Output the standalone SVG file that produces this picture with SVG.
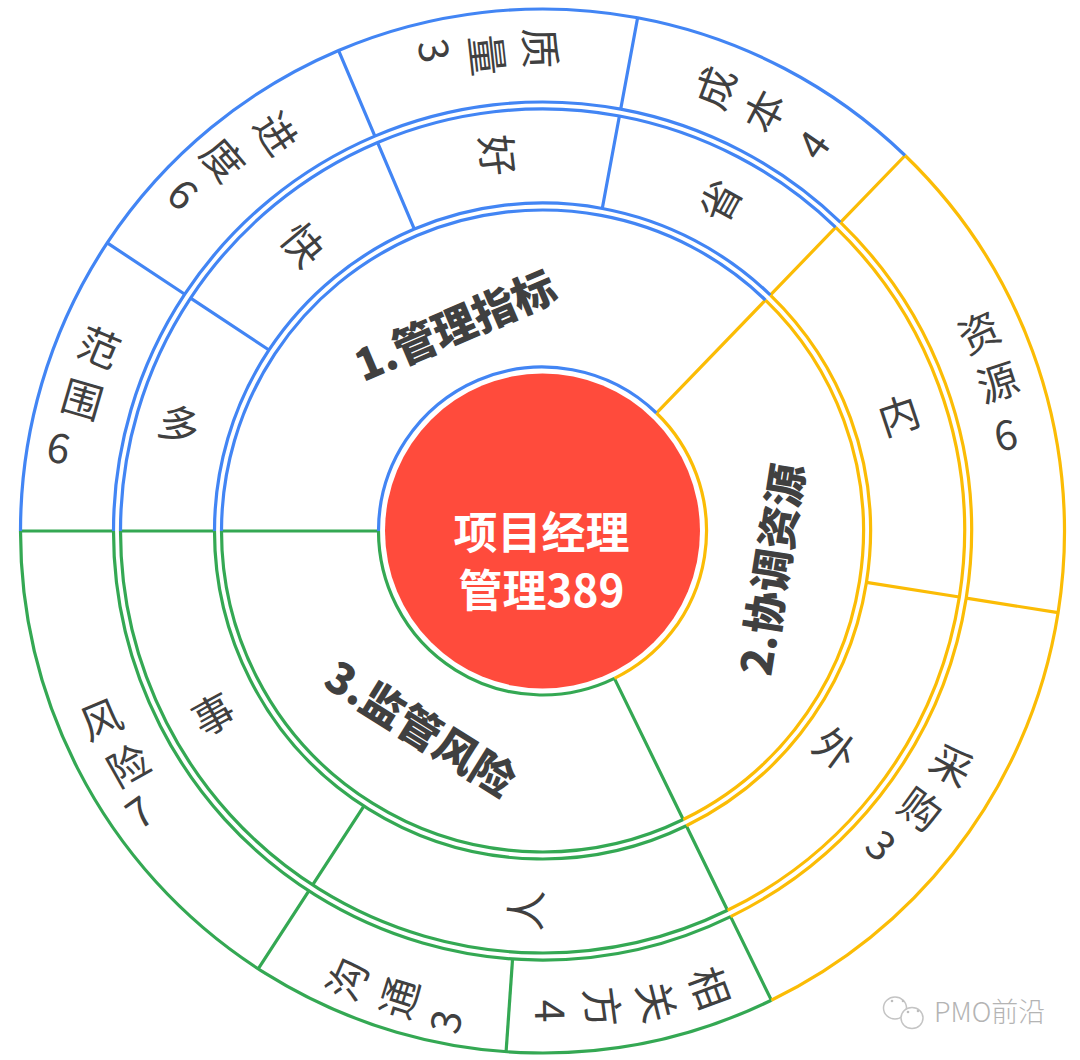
<svg xmlns="http://www.w3.org/2000/svg" width="1080" height="1060" viewBox="0 0 1080 1060">
<style>
.a{fill:none;stroke-width:3.2}
.b{stroke:#4285F4}.y{stroke:#FBBC05}.g{stroke:#34A853}
.c{font-family:"Noto Sans CJK SC","Noto Sans",sans-serif;font-size:41px;font-weight:400;fill:#404040;text-anchor:middle;dominant-baseline:central}
.h{font-family:"Noto Sans CJK SC","Noto Sans",sans-serif;font-size:43px;font-weight:900;fill:#404040;text-anchor:middle;dominant-baseline:central}
.m{font-family:"Noto Sans CJK SC","Noto Sans",sans-serif;font-size:44px;font-weight:700;fill:#fff;text-anchor:middle}
.w{font-family:"Noto Sans CJK SC","Noto Sans",sans-serif;font-size:27px;font-weight:300;fill:#b4b4b4}
.i{fill:#fff;stroke:#c4c4c4;stroke-width:1.5}
.e{fill:#bdbdbd}
</style>
<rect width="1080" height="1060" fill="#fff"/>
<g id="connectors">
<g id="radial-dividers" class="a" transform="translate(542.5 531)">
<path class="g" d="M164 0H321M328 0H422M429 0H522" transform="rotate(180)"/>
<path class="b" d="M328 0H422M429 0H522" transform="rotate(-146.5)"/>
<path class="b" d="M328 0H422M429 0H522" transform="rotate(-113)"/>
<path class="b" d="M328 0H422M429 0H522" transform="rotate(-79.5)"/>
<path class="y" d="M164 0H321M328 0H422M429 0H522" transform="rotate(-46)"/>
<path class="y" d="M328 0H422M429 0H522" transform="rotate(9)"/>
<path class="g" d="M164 0H321M328 0H422M429 0H522" transform="rotate(64)"/>
<path class="g" d="M429 0H522" transform="rotate(94)"/>
<path class="g" d="M328 0H422M429 0H522" transform="rotate(123)"/>
</g>
<g id="arcs-blue" class="a b">
<path d="M20.5 531A522 522 0 0 1 905.1 155.5"/>
<path d="M113.5 531A429 429 0 0 1 840.5 222.4"/>
<path d="M120.5 531A422 422 0 0 1 835.7 227.4"/>
<path d="M214.5 531A328 328 0 0 1 770.4 295.1"/>
<path d="M221.5 531A321 321 0 0 1 765.5 300.1"/>
<path d="M378.5 531A164 164 0 0 1 656.4 413"/>
</g>
<g id="arcs-yellow" class="a y">
<path d="M905.1 155.5A522 522 0 0 1 771.3 1000.2"/>
<path d="M840.5 222.4A429 429 0 0 1 730.6 916.6"/>
<path d="M835.7 227.4A422 422 0 0 1 727.5 910.3"/>
<path d="M770.4 295.1A328 328 0 0 1 686.3 825.8"/>
<path d="M765.5 300.1A321 321 0 0 1 683.2 819.5"/>
<path d="M656.4 413A164 164 0 0 1 614.4 678.4"/>
</g>
<g id="arcs-green" class="a g">
<path d="M771.3 1000.2A522 522 0 0 1 20.5 531"/>
<path d="M730.6 916.6A429 429 0 0 1 113.5 531"/>
<path d="M727.5 910.3A422 422 0 0 1 120.5 531"/>
<path d="M686.3 825.8A328 328 0 0 1 214.5 531"/>
<path d="M683.2 819.5A321 321 0 0 1 221.5 531"/>
<path d="M614.4 678.4A164 164 0 0 1 378.5 531"/>
</g>
</g>
<g id="center">
<circle cx="542.5" cy="531" r="157.5" fill="#FF4B3C"/>
<text class="m" x="541.5" y="549">项目经理</text>
<text class="m" x="541.5" y="607">管理389</text>
</g>
<g id="sector-1"><text class="h" transform="translate(454 323) rotate(-23)">1.管理指标</text></g>
<g id="sector-2"><text class="h" transform="translate(769 569) rotate(-81)">2.协调资源</text></g>
<g id="sector-3"><text class="h" transform="translate(422 726) rotate(32)">3.监管风险</text></g>
<g id="mid-duo"><text class="c" transform="translate(180 422) rotate(18)">多</text></g>
<g id="mid-kuai"><text class="c" transform="translate(305 243) rotate(50.5)">快</text></g>
<g id="mid-hao"><text class="c" transform="translate(500 155) rotate(83.5)">好</text></g>
<g id="mid-sheng"><text class="c" transform="translate(718 200) rotate(-61.4)">省</text></g>
<g id="mid-nei"><text class="c" transform="translate(898 413) rotate(-18.4)">内</text></g>
<g id="mid-wai"><text class="c" transform="translate(837 747) rotate(36.3)">外</text></g>
<g id="mid-ren"><text class="c" transform="translate(523 910) rotate(-87)">人</text></g>
<g id="mid-shi"><text class="c" transform="translate(212 712) rotate(-29)">事</text></g>
<g id="out-fanwei">
<text class="c" transform="translate(100 345) rotate(22.8)">范</text>
<text class="c" transform="translate(83 397) rotate(16.3)">围</text>
<text class="c" transform="translate(59 445) rotate(10.1)">6</text>
</g>
<g id="out-jindu">
<text class="c" transform="translate(278 132) rotate(56.5)">进</text>
<text class="c" transform="translate(225 158) rotate(49.6)">度</text>
<text class="c" transform="translate(185 192) rotate(43.5)">6</text>
</g>
<g id="out-zhiliang">
<text class="c" transform="translate(543 48) rotate(88)">质</text>
<text class="c" transform="translate(490 55) rotate(83.7)">量</text>
<text class="c" transform="translate(437 50) rotate(77.6)">3</text>
</g>
<g id="out-chengben">
<text class="c" transform="translate(713 87) rotate(-69.2)">成</text>
<text class="c" transform="translate(762 110) rotate(-62.5)">本</text>
<text class="c" transform="translate(811 143) rotate(-55.1)">4</text>
</g>
<g id="out-ziyuan">
<text class="c" transform="translate(978 330) rotate(-24.8)">资</text>
<text class="c" transform="translate(997 380) rotate(-18.4)">源</text>
<text class="c" transform="translate(1005 432) rotate(-12.1)">6</text>
</g>
<g id="out-caigou">
<text class="c" transform="translate(953 763) rotate(29.3)">采</text>
<text class="c" transform="translate(922 807) rotate(36.1)">购</text>
<text class="c" transform="translate(883 843) rotate(42.9)">3</text>
</g>
<g id="out-xiangguanfang">
<text class="c" transform="translate(712 987) rotate(69.6)">相</text>
<text class="c" transform="translate(659 1001) rotate(76.1)">关</text>
<text class="c" transform="translate(605 1007) rotate(82.5)">方</text>
<text class="c" transform="translate(553 1011) rotate(88.7)">4</text>
</g>
<g id="out-goutong">
<text class="c" transform="translate(345 978) rotate(-66.2)">沟</text>
<text class="c" transform="translate(397 997) rotate(-72.7)">通</text>
<text class="c" transform="translate(443 1021) rotate(-78.5)">3</text>
</g>
<g id="out-fengxian">
<text class="c" transform="translate(100 717) rotate(-23)">风</text>
<text class="c" transform="translate(127 763) rotate(-29.4)">险</text>
<text class="c" transform="translate(138 810) rotate(-35.2)">7</text>
</g>
<g id="watermark">
<ellipse class="i" cx="895" cy="1008" rx="11.5" ry="11"/>
<ellipse class="i" cx="912" cy="1018" rx="11" ry="10.5"/>
<circle class="e" cx="892" cy="1001" r="1.3"/><circle class="e" cx="903" cy="1001" r="1.3"/>
<circle class="e" cx="908" cy="1012" r="1.3"/><circle class="e" cx="918" cy="1011" r="1.3"/>
<text class="w" x="934" y="1022">PMO前沿</text>
</g>
</svg>
